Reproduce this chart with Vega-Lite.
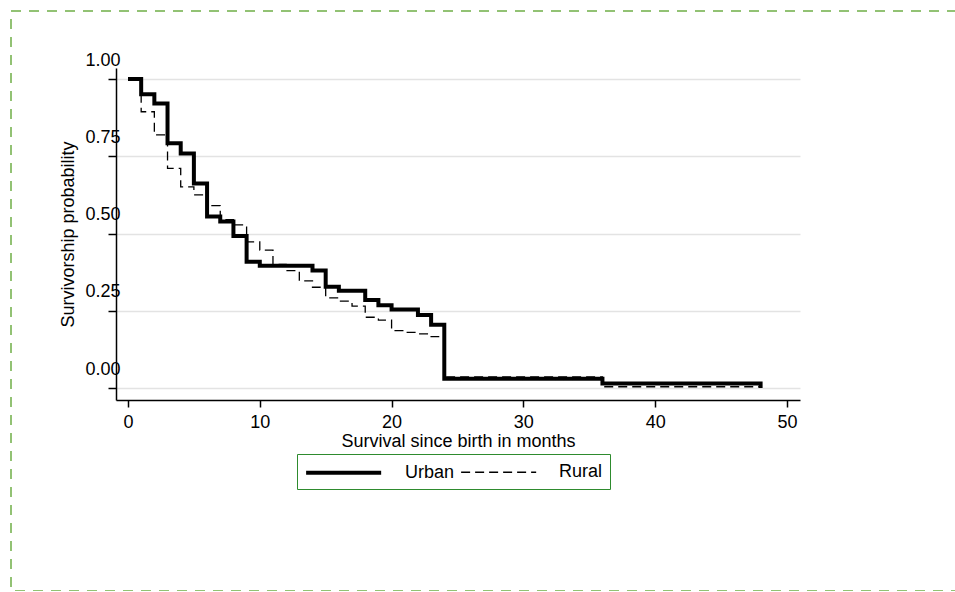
{
  "$schema": "https://vega.github.io/schema/vega-lite/v6.json",
  "autosize": {"type": "none"},
  "padding": {"left": 11, "top": 11, "right": 0, "bottom": 0},
  "width": 950,
  "height": 580,
  "background": "white",
  "config": {
    "font": "Liberation Sans",
    "view": {"stroke": "#92c274", "strokeWidth": 2, "strokeDash": [10, 8]},
    "axis": {
      "labelFont": "Liberation Sans",
      "titleFont": "Liberation Sans",
      "labelFontSize": 18,
      "titleFontSize": 18,
      "titleFontWeight": "normal",
      "labelColor": "black",
      "titleColor": "black",
      "domainColor": "black",
      "tickColor": "black",
      "domainWidth": 1.5,
      "tickWidth": 1.5,
      "labelOverlap": false,
      "labelFlush": false,
      "labelBound": false
    },
    "legend": {
      "labelFont": "Liberation Sans",
      "labelFontSize": 18,
      "labelColor": "black"
    }
  },
  "data": {
    "values": [
      {"m": 0, "s": 1.0, "g": "Urban"},
      {"m": 1, "s": 0.951, "g": "Urban"},
      {"m": 2, "s": 0.921, "g": "Urban"},
      {"m": 3, "s": 0.792, "g": "Urban"},
      {"m": 4, "s": 0.759, "g": "Urban"},
      {"m": 5, "s": 0.662, "g": "Urban"},
      {"m": 6, "s": 0.555, "g": "Urban"},
      {"m": 7, "s": 0.539, "g": "Urban"},
      {"m": 8, "s": 0.492, "g": "Urban"},
      {"m": 9, "s": 0.409, "g": "Urban"},
      {"m": 10, "s": 0.396, "g": "Urban"},
      {"m": 14, "s": 0.380, "g": "Urban"},
      {"m": 15, "s": 0.328, "g": "Urban"},
      {"m": 16, "s": 0.315, "g": "Urban"},
      {"m": 18, "s": 0.285, "g": "Urban"},
      {"m": 19, "s": 0.268, "g": "Urban"},
      {"m": 20, "s": 0.254, "g": "Urban"},
      {"m": 22, "s": 0.236, "g": "Urban"},
      {"m": 23, "s": 0.205, "g": "Urban"},
      {"m": 24, "s": 0.030, "g": "Urban"},
      {"m": 36, "s": 0.015, "g": "Urban"},
      {"m": 48, "s": 0.0, "g": "Urban"},
      {"m": 0, "s": 1.0, "g": "Rural"},
      {"m": 1, "s": 0.894, "g": "Rural"},
      {"m": 2, "s": 0.819, "g": "Rural"},
      {"m": 3, "s": 0.711, "g": "Rural"},
      {"m": 4, "s": 0.651, "g": "Rural"},
      {"m": 5, "s": 0.625, "g": "Rural"},
      {"m": 6, "s": 0.590, "g": "Rural"},
      {"m": 7, "s": 0.545, "g": "Rural"},
      {"m": 8, "s": 0.528, "g": "Rural"},
      {"m": 9, "s": 0.473, "g": "Rural"},
      {"m": 10, "s": 0.446, "g": "Rural"},
      {"m": 11, "s": 0.400, "g": "Rural"},
      {"m": 12, "s": 0.380, "g": "Rural"},
      {"m": 13, "s": 0.347, "g": "Rural"},
      {"m": 14, "s": 0.326, "g": "Rural"},
      {"m": 15, "s": 0.292, "g": "Rural"},
      {"m": 16, "s": 0.281, "g": "Rural"},
      {"m": 17, "s": 0.265, "g": "Rural"},
      {"m": 18, "s": 0.229, "g": "Rural"},
      {"m": 19, "s": 0.220, "g": "Rural"},
      {"m": 20, "s": 0.186, "g": "Rural"},
      {"m": 21, "s": 0.180, "g": "Rural"},
      {"m": 22, "s": 0.175, "g": "Rural"},
      {"m": 23, "s": 0.166, "g": "Rural"},
      {"m": 24, "s": 0.036, "g": "Rural"},
      {"m": 36, "s": 0.004, "g": "Rural"},
      {"m": 48, "s": 0.004, "g": "Rural"}
    ]
  },
  "mark": {"type": "line", "interpolate": "step-after", "color": "black", "strokeJoin": "miter", "strokeCap": "butt"},
  "encoding": {
    "x": {
      "field": "m",
      "type": "quantitative",
      "scale": {"domain": [-0.91, 50.99], "range": [105, 789], "nice": false, "zero": false},
      "axis": {
        "title": "Survival since birth in months",
        "values": [0, 10, 20, 30, 40, 50],
        "offset": -191,
        "tickSize": 7,
        "labelPadding": 6,
        "titlePadding": 1,
        "grid": false
      }
    },
    "y": {
      "field": "s",
      "type": "quantitative",
      "scale": {"domain": [-0.0388, 1.0356], "range": [389, 57], "nice": false, "zero": false},
      "axis": {
        "title": "Survivorship probability",
        "values": [0, 0.25, 0.5, 0.75, 1],
        "format": ".2f",
        "offset": -105,
        "tickSize": 8,
        "labelAlign": "right",
        "labelBaseline": "alphabetic",
        "labelOffset": -14,
        "labelPadding": -12,
        "titlePadding": 7,
        "grid": true,
        "gridColor": "#e3e3e3",
        "gridWidth": 1.5
      }
    },
    "strokeWidth": {
      "field": "g",
      "type": "nominal",
      "scale": {"domain": ["Urban", "Rural"], "range": [4, 1.3]},
      "legend": null
    },
    "strokeDash": {
      "field": "g",
      "type": "nominal",
      "scale": {"domain": ["Urban", "Rural"], "range": [[1, 0], [9, 5]]},
      "legend": {
        "title": null,
        "orient": "none",
        "legendX": 286,
        "legendY": 443,
        "direction": "horizontal",
        "symbolType": "M-1,0H7",
        "symbolSize": 352,
        "symbolStrokeColor": "black",
        "symbolStrokeWidth": 1.3,
        "labelOffset": 78,
        "columnPadding": 3,
        "padding": 7,
        "strokeColor": "#2e8b2e",
        "fillColor": "white"
      }
    }
  }
}
